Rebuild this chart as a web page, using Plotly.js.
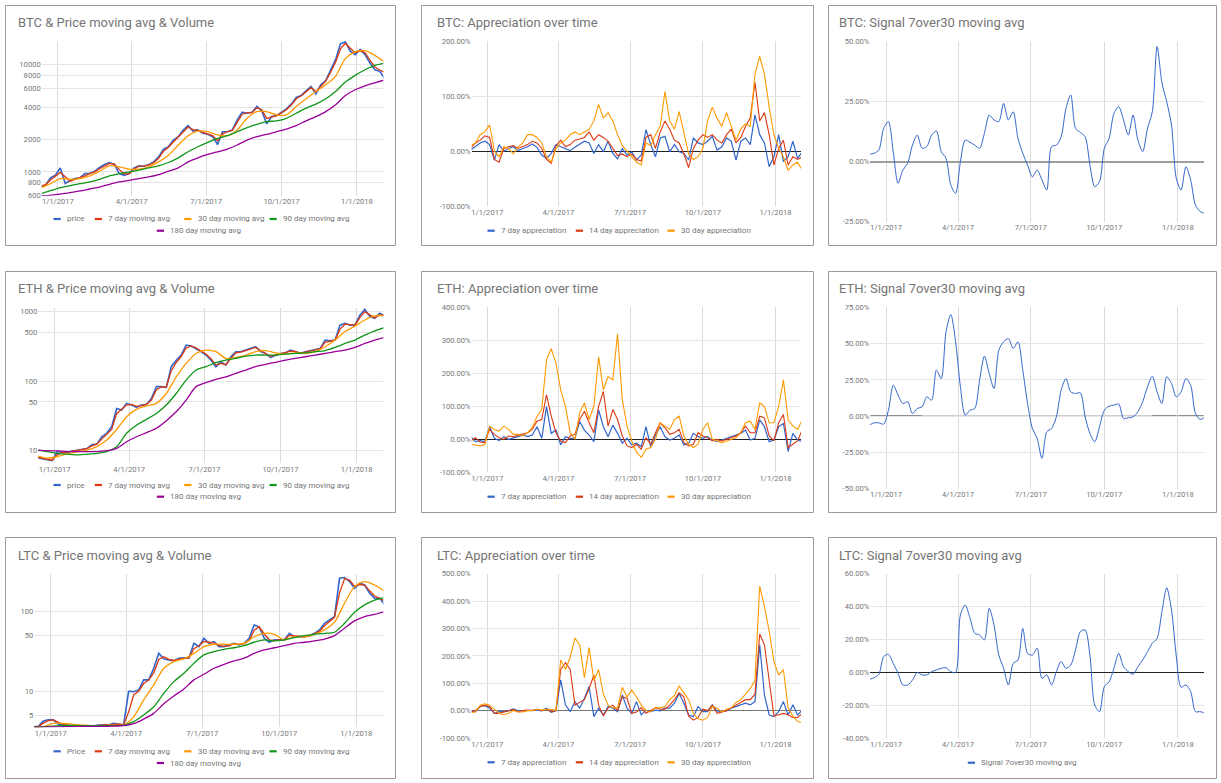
<!DOCTYPE html>
<html><head><meta charset="utf-8">
<script src="https://cdn.plot.ly/plotly-3.0.1.min.js"></script>
<style>html,body{margin:0;padding:0;background:#fff;}#chart{width:1221px;height:783px;}</style>
</head><body><div id="chart"></div>
<script>
// ---------- categories / tick labels ----------
const xTickVals = ['2017-01-01','2017-04-01','2017-07-01','2017-10-01','2018-01-01'];
const xTickText = ['1/1/2017','4/1/2017','7/1/2017','10/1/2017','1/1/2018'];
const priceNames = ['price','7 day moving avg','30 day moving avg','90 day moving avg','180 day moving avg'];
const ltcPriceNames = ['Price','7 day moving avg','30 day moving avg','90 day moving avg','180 day moving avg'];
const appNames = ['7 day appreciation','14 day appreciation','30 day appreciation'];
const signalName = 'Signal 7over30 moving avg';

const btcPriceTicks = [600,800,1000,2000,4000,6000,8000,10000];
const btcPriceTickText = ['600','800','1000','2000','4000','6000','8000','10000'];
const ethPriceTicks = [10,50,100,500,1000];
const ethPriceTickText = ['10','50','100','500','1000'];
const ltcPriceTicks = [5,10,50,100];
const ltcPriceTickText = ['5','10','50','100'];
const btcAppTicks = [-100,0,100,200];
const btcAppTickText = ['-100.00%','0.00%','100.00%','200.00%'];
const ethAppTicks = [-100,0,100,200,300,400];
const ethAppTickText = ['-100.00%','0.00%','100.00%','200.00%','300.00%','400.00%'];
const ltcAppTicks = [-100,0,100,200,300,400,500];
const ltcAppTickText = ['-100.00%','0.00%','100.00%','200.00%','300.00%','400.00%','500.00%'];
const btcSigTicks = [-25,0,25,50];
const btcSigTickText = ['-25.00%','0.00%','25.00%','50.00%'];
const ethSigTicks = [-50,-25,0,25,50,75];
const ethSigTickText = ['-50.00%','-25.00%','0.00%','25.00%','50.00%','75.00%'];
const ltcSigTicks = [-40,-20,0,20,40,60];
const ltcSigTickText = ['-40.00%','-20.00%','0.00%','20.00%','40.00%','60.00%'];

// daily dates sampled every 6 days / 12 days from 2016-12-11
function dayGrid(step, count){const out=[];const t0=Date.UTC(2016,11,11);for(let k=0;k<count;k++){out.push(new Date(t0+k*step*86400000).toISOString().slice(0,10));}return out;}
const dates6 = dayGrid(6,71);
const dates12 = dayGrid(12,36);

// ---------- BTC ----------
const btcPrice = [730,750,880,930,1090,780,835,866,880,965,965,1015,1100,1170,1220,1170,965,930,965,1090,1140,1130,1170,1240,1380,1630,1715,1980,2130,2460,2700,2400,2460,2290,2240,2130,1800,2370,2370,2460,3050,3600,3520,3600,4070,3700,2800,3280,3350,3600,3870,4280,4940,5160,5700,6270,5320,6500,7090,8960,11130,15600,16300,13330,12400,13840,12400,10340,8960,8660,7400];
const btcMa7 = [740,760,840,910,990,900,820,850,880,920,970,1000,1070,1140,1200,1190,1050,960,960,1060,1130,1130,1160,1220,1340,1560,1700,1900,2100,2350,2620,2480,2450,2330,2260,2180,1950,2250,2380,2440,2900,3450,3550,3580,3950,3800,3150,3250,3350,3550,3800,4200,4800,5100,5600,6100,5600,6300,7000,8500,10500,14000,15800,14200,12900,13500,12900,11000,9500,8900,8400];
const btcMa30 = [708,777,866,853,866,917,1015,1140,1115,1060,1060,1115,1240,1430,1780,2175,2400,2370,2210,2175,2460,3160,3650,3650,3400,3400,4070,4800,5620,6500,7780,11380,13150,13500,12200,10570];
const btcMa90 = [626,668,713,745,777,806,853,917,965,1000,1037,1090,1140,1223,1353,1540,1715,1884,2054,2175,2370,2585,2780,2940,2990,3160,3520,3930,4280,4800,5620,6870,7940,8960,9840,10300];
const btcMa180 = [602,605,622,640,664,693,723,766,806,835,866,898,944,1015,1090,1240,1353,1454,1540,1630,1780,1980,2130,2240,2370,2510,2700,2990,3280,3650,4220,5160,5830,6350,6770,7180];
const btcApp7 = [2,8,15,18,12,-16,12,0,5,8,1,5,8,13,7,-7,-13,-4,12,8,4,1,7,12,18,15,-4,12,-1,18,-4,-14,5,-7,-1,-16,-7,39,12,-10,24,27,-1,12,-1,-4,-16,24,15,12,18,27,2,8,24,18,-16,18,24,12,66,30,15,-28,-10,30,-19,-10,18,-13,-1];
const btcApp14 = [5,15,20,28,25,-15,-20,5,8,10,5,8,12,18,15,5,-15,-22,10,20,8,12,20,22,25,35,20,30,25,18,5,-8,-5,-10,-5,-15,-18,25,30,5,35,55,40,20,15,-5,-30,5,20,30,25,30,20,15,30,40,15,25,45,60,125,55,70,30,-25,5,20,-25,-10,-15,-10];
const btcApp30 = [10,15,30,35,48,0,-10,8,5,-5,8,15,30,30,25,15,-10,-20,5,15,20,30,35,30,35,40,55,85,60,70,55,30,10,0,-10,-20,-25,15,10,30,45,108,55,40,72,35,-5,-15,-10,5,55,80,60,45,70,45,20,40,50,45,140,172,140,80,30,5,-10,-35,-25,-20,-35];
const btcSignal = [3.1,3.5,4.9,13.9,16.7,4,-9,-3.5,-0.7,6.9,11.1,5.6,6.3,11.1,12.8,4.2,1.4,-9.7,-13.2,0,9.0,8.1,6.9,5.6,11.8,19.4,17.4,16.7,24.3,17.4,20.8,9.7,3.5,-1.4,-6.3,-3.5,-7.6,-11.8,6.3,6.9,10.4,22.2,27.8,13.9,12.2,10.4,-1.4,-10.4,-8.3,5.6,9.7,20.1,22.9,17.4,11.1,19.4,9.0,4.2,13.9,20.8,48,33,25,15.3,-6.9,-11.8,-2.1,-7.6,-18.1,-20.8,-21.5];

// ---------- ETH ----------
const ethPrice = [7.8,7.6,7.25,7.1,9.6,9.3,9.3,9.8,10,10.3,10.6,12,12.3,15.7,17.6,22,40,38.2,47.6,45,41.6,45,46,56,83,83,81,161,200,237,330,320,295,265,237,200,161,190,170,224,265,265,279,295,312,265,250,220,237,250,255,279,265,250,265,275,279,295,390,380,390,640,680,640,640,890,1080,850,800,948,870];
const ethMa7 = [8.0,7.7,7.4,7.2,8.6,9.3,9.4,9.7,10,10.3,10.6,11.6,12.3,14.5,17,20,34,39,45,46,43,44,46,53,75,82,82,140,185,225,300,320,300,270,245,210,170,180,172,210,255,262,275,290,305,275,252,228,236,248,254,270,268,253,262,272,278,292,360,378,388,560,660,650,640,820,1000,900,820,900,880];
const ethMa30 = [8.3,7.7,8.1,8.9,9.5,10.1,11.3,14.1,20,30.6,39,43.6,47.6,66,115,180,250,279,265,212,218,237,265,275,255,245,255,250,265,312,390,517,620,760,870,880];
const ethMa90 = [10,9.6,9.05,8.8,8.6,8.8,9.05,9.6,11.3,17.6,23,28,34,45,66,103,144,161,184,200,212,229,237,237,237,245,250,255,265,275,305,348,390,460,530,592];
const ethMa180 = [10.1,9.9,9.8,9.6,9.6,9.6,9.6,9.9,10.7,13.3,15.7,18,20.8,26.8,36,53,83,95,106,115,129,144,161,174,186,200,212,224,237,250,265,279,305,348,390,426];
const ethApp7 = [8,-7,-4,-7,38,3,-4,8,0,3,8,13,8,13,38,3,99,18,28,-17,8,3,3,54,28,13,-7,89,38,8,43,18,-12,3,-17,-12,-22,38,-22,13,38,8,-2,3,13,-17,-12,18,8,3,8,-2,-7,-2,3,8,13,18,28,-2,3,59,38,-7,-2,38,48,-37,18,-2,-7];
const ethApp14 = [-5,5,-8,-10,30,15,5,0,10,8,12,15,20,30,55,60,135,70,20,-5,-10,10,15,60,85,50,20,100,145,40,90,60,10,-20,-25,-15,-30,5,-15,20,50,35,15,20,30,-10,-20,-15,20,10,5,-5,0,-5,0,5,10,20,40,20,20,70,65,10,-5,50,75,-25,-15,-5,30];
const ethApp30 = [-15,-18,-20,-15,40,30,25,40,30,15,15,10,20,35,70,90,240,275,230,150,100,20,0,80,110,60,100,250,150,190,180,320,120,40,-5,-40,-55,-30,-25,0,50,40,30,60,70,10,-15,-25,-15,30,50,0,-5,-10,-5,0,5,20,50,55,30,110,100,50,50,100,180,60,40,30,60];
const ethSignal = [-6.2,-4.6,-4.6,-5.5,4.1,21.3,14.5,8.7,9.9,1.8,5.3,6.4,13.3,11.0,31.7,25.9,58,70,51.2,20.2,0.7,4.1,5.3,24.8,41.3,29.4,19.0,45.4,51.2,53.4,46.6,51.2,31.7,8.7,-8.5,-15.4,-29.1,-10.8,-8.5,-0.5,17.9,25.9,16.7,15.6,16.1,-0.5,-11.9,-17.7,-7.3,4.1,6.9,7.6,8.3,-1.6,-1.1,-0.5,3.0,9.9,20.2,27.5,16.7,8.7,27.1,22.5,13.3,16.7,25.9,21.3,1.8,-2.3,-0.5];

// ---------- LTC ----------
const ltcPrice = [3.62,3.62,4.25,4.4,4.4,3.87,3.79,3.72,3.72,3.68,3.68,3.65,3.68,3.79,3.79,3.79,3.98,3.87,3.79,10,9.9,10.4,13.9,13.9,19.4,29.8,25.4,24.6,24,25.9,26.3,25.9,39.8,36.2,46,39.8,41.8,36.2,36.2,37.9,39.8,37.9,39.8,46,67.4,64,46,41,43.9,43.9,43.9,53,48,48,48,49.6,53,58.5,70.8,78,85.8,258,264,235,194,224,213,168,145,145,120];
const ltcMa7 = [3.6,3.6,4.0,4.3,4.4,4.1,3.85,3.75,3.72,3.7,3.68,3.66,3.67,3.75,3.78,3.8,3.9,3.9,3.82,5.5,9.0,10,12.5,13.8,17,25,27,25,24.3,25,26,26,34,37,42,41,40,37.5,36.5,37,39,38.5,39.5,43,58,64,52,44,43,44,44,50,49,48,48,49,52,56,66,75,84,170,255,245,205,215,212,180,155,145,135];
const ltcMa30 = [3.58,3.62,3.98,3.98,3.87,3.79,3.72,3.72,3.79,3.79,4.8,7.8,12,19.4,23.5,25.4,29.8,36.2,38.7,38.7,38.7,39.8,48,53,51.5,43.9,48,48,51.5,58.5,73,126,203,235,213,176];
const ltcMa90 = [3.58,3.6,3.68,3.75,3.75,3.72,3.72,3.72,3.72,3.79,4.17,5.06,6.4,9.4,13.2,16.8,22.4,28.5,31.3,33.5,35,37.2,41,43.9,42.6,43.9,46.8,49.6,51.5,53,54.7,70.8,97,120,138,149];
const ltcMa180 = [3.57,3.57,3.58,3.62,3.62,3.65,3.65,3.65,3.68,3.72,3.94,4.5,5.3,7.0,8.75,10.7,13.9,16.3,19.4,21.7,24,25.9,29.8,32.9,35,37.2,39.8,41,42.6,45,49.6,61.3,75.7,85.8,91.6,99];
const ltcApp7 = [2,-4,15,18,9,-10,-4,-4,-1,6,-1,0,0,0,2,-1,9,-6,-1,112,21,-4,33,9,45,88,-22,9,-16,15,9,-4,57,9,-10,33,-16,2,-4,2,-1,9,9,27,63,27,-16,-22,15,-4,-4,21,-1,-4,-1,9,15,21,27,21,33,240,57,-16,-22,-4,33,-16,21,-16,2];
const ltcApp14 = [-5,0,15,20,15,-10,-10,-5,0,5,-5,0,2,0,5,0,5,-5,0,150,175,150,20,30,40,80,130,20,-20,10,20,0,50,45,-10,-5,10,-10,0,10,5,5,20,40,65,50,-20,-35,-25,5,0,20,-10,-5,0,10,20,30,40,40,60,280,240,110,-20,-15,-10,-15,-25,-25,-10];
const ltcApp30 = [-8,-5,20,25,20,5,-10,-15,-10,0,-5,-5,0,0,5,2,5,5,0,185,150,195,265,240,120,230,110,150,60,20,10,10,85,50,75,50,20,0,-5,10,10,15,40,55,90,65,40,-10,-30,-35,-25,15,10,-5,5,10,30,40,60,80,110,455,380,290,180,130,150,10,-20,-40,-45];
const ltcSignal = [-4.2,-3.2,-1.1,9.6,11,5.5,-0.5,-7.6,-7.6,-4.6,0,-1.5,-1.5,0.5,1.5,2.5,2.9,0.5,0,35,41,33,23.8,22.8,19.7,39,28.8,10.6,2.5,-7.6,5.5,7.6,26.8,11.6,10.6,14.7,-3.6,-1.5,-7.6,0.5,6.6,2.5,4.5,13.7,24.8,25.8,10.6,-19.8,-23.8,-8.6,-5.6,2.5,11.6,3.5,0.5,-1.1,3.5,7.6,12.6,17.7,20.7,36.9,51.5,38,10,-9,-7.6,-11.6,-23.8,-23.8,-24.8];

// ---------- styling / layout ----------
const W = 1221, H = 783;
const C = {blue:'#3366cc', red:'#dc3912', orange:'#ff9900', green:'#109618', purple:'#990099'};
const FONT = 'Roboto, "Open Sans", Arial, sans-serif';
const XRANGE = ['2016-12-12 07:00','2018-02-02 07:00'];
const px = v => v / W;
const py = v => 1 - v / H;

const priceColors = [C.blue, C.red, C.orange, C.green, C.purple];
const priceWidths = [1.6, 1.3, 1.3, 1.3, 1.3];
const priceShapes = ['linear','linear','spline','spline','spline'];
const appColors = [C.blue, C.red, C.orange];

const PANELS = [
  {box:[5.5,5.5,395.5,245.5], plot:[41.7,41,383.3,195.7], title:'BTC & Price moving avg & Volume', tpos:[17.3,22.5],
   ytype:'log', yrange:[Math.log10(600),Math.log10(16600)], yt:btcPriceTicks, ytt:btcPriceTickText,
   series:[[dates6,btcPrice],[dates6,btcMa7],[dates12,btcMa30],[dates12,btcMa90],[dates12,btcMa180]], names:priceNames, colors:priceColors, widths:priceWidths, shapes:priceShapes,
   legend:[{y:219, idx:[0,1,2,3], tx:[66,107.3,196.7,282]},{y:230.7, idx:[4], tx:[169.3]}]},
  {box:[421.5,5.5,813.5,245.5], plot:[471.7,41,801,206.3], title:'BTC: Appreciation over time', tpos:[435.7,22.5],
   ytype:'linear', yrange:[-100,200], yt:btcAppTicks, ytt:btcAppTickText, zero:{color:'#222',width:1.2},
   series:[[dates6,btcApp7],[dates6,btcApp14],[dates6,btcApp30]], names:appNames, colors:appColors, widths:[1.2,1.1,1.1], shapes:['linear','linear','linear'],
   legend:[{y:230.7, idx:[0,1,2], tx:[500,588.3,680]}]},
  {box:[828.5,5.5,1216.5,245.5], plot:[870.3,41.7,1203.7,221.7], title:'BTC: Signal 7over30 moving avg', tpos:[838,22.5],
   ytype:'linear', yrange:[-25,50], yt:btcSigTicks, ytt:btcSigTickText, zero:{color:'#9e9e9e',width:1.6},
   series:[[dates6,btcSignal]], names:[signalName], colors:[C.blue], widths:[1], shapes:['spline'], legend:[]},

  {box:[5.5,271.5,395.5,512.5], plot:[38.3,307.7,383.3,463.3], title:'ETH & Price moving avg & Volume', tpos:[17.3,289],
   ytype:'log', yrange:[Math.log10(6.5),Math.log10(1142)], yt:ethPriceTicks, ytt:ethPriceTickText,
   series:[[dates6,ethPrice],[dates6,ethMa7],[dates12,ethMa30],[dates12,ethMa90],[dates12,ethMa180]], names:priceNames, colors:priceColors, widths:priceWidths, shapes:priceShapes,
   legend:[{y:485, idx:[0,1,2,3], tx:[66,107.3,196.7,282]},{y:496.7, idx:[4], tx:[169.3]}]},
  {box:[421.5,271.5,813.5,512.5], plot:[471.7,307.3,801,472.3], title:'ETH: Appreciation over time', tpos:[435.7,289],
   ytype:'linear', yrange:[-100,400], yt:ethAppTicks, ytt:ethAppTickText, zero:{color:'#222',width:1.2},
   series:[[dates6,ethApp7],[dates6,ethApp14],[dates6,ethApp30]], names:appNames, colors:appColors, widths:[1.2,1.1,1.1], shapes:['linear','linear','linear'],
   legend:[{y:496.7, idx:[0,1,2], tx:[500,588.3,680]}]},
  {box:[828.5,271.5,1216.5,512.5], plot:[870.3,307.3,1203.7,488.7], title:'ETH: Signal 7over30 moving avg', tpos:[838,289],
   ytype:'linear', yrange:[-50,75], yt:ethSigTicks, ytt:ethSigTickText, zeroSegs:[[870.3,922,'#222'],[922,1152,'#9e9e9e'],[1152,1203.7,'#222']],
   series:[[dates6,ethSignal]], names:[signalName], colors:[C.blue], widths:[1], shapes:['spline'], legend:[]},

  {box:[5.5,537.5,395.5,778.5], plot:[34.3,574,383.3,727.3], title:'LTC & Price moving avg & Volume', tpos:[17.3,555],
   ytype:'log', yrange:[Math.log10(3.55),Math.log10(292)], yt:ltcPriceTicks, ytt:ltcPriceTickText,
   series:[[dates6,ltcPrice],[dates6,ltcMa7],[dates12,ltcMa30],[dates12,ltcMa90],[dates12,ltcMa180]], names:ltcPriceNames, colors:priceColors, widths:priceWidths, shapes:priceShapes,
   legend:[{y:751.3, idx:[0,1,2,3], tx:[66,107.3,196.7,282]},{y:763, idx:[4], tx:[169.3]}]},
  {box:[421.5,537.5,813.5,778.5], plot:[471.7,573.7,801,738], title:'LTC: Appreciation over time', tpos:[435.7,555],
   ytype:'linear', yrange:[-100,500], yt:ltcAppTicks, ytt:ltcAppTickText, zero:{color:'#777',width:1.2},
   series:[[dates6,ltcApp7],[dates6,ltcApp14],[dates6,ltcApp30]], names:appNames, colors:appColors, widths:[1.2,1.1,1.1], shapes:['linear','linear','linear'],
   legend:[{y:762.3, idx:[0,1,2], tx:[500,588.3,680]}]},
  {box:[828.5,537.5,1216.5,778.5], plot:[870.3,573.7,1203.7,738.3], title:'LTC: Signal 7over30 moving avg', tpos:[838,555.5],
   ytype:'linear', yrange:[-40,60], yt:ltcSigTicks, ytt:ltcSigTickText, zero:{color:'#222',width:1.2},
   series:[[dates6,ltcSignal]], names:[signalName], colors:[C.blue], widths:[1], shapes:['spline'],
   legend:[{y:762.7, idx:[0], tx:[980.3]}]}
];

const traces = [];
const layout = {
  width:W, height:H, margin:{l:0,r:0,t:0,b:0}, paper_bgcolor:'#ffffff', plot_bgcolor:'#ffffff',
  showlegend:false, hovermode:false, font:{family:FONT, size:8, color:'#757575'},
  shapes:[], annotations:[]
};

PANELS.forEach((p,i) => {
  const s = i === 0 ? '' : String(i+1);
  const [l,t,r,b] = p.plot;
  layout['xaxis'+s] = {
    domain:[px(l),px(r)], anchor:'y'+s, type:'date', range:XRANGE,
    tickmode:'array', tickvals:xTickVals, ticktext:xTickText, ticks:'',
    showgrid:true, gridcolor:'#dadada', gridwidth:1, zeroline:false, showline:false,
    tickfont:{family:FONT, size:7.6, color:'#777777'}, fixedrange:true
  };
  const ya = {
    domain:[py(b),py(t)], anchor:'x'+s, type:p.ytype, range:p.yrange,
    tickmode:'array', tickvals:p.yt, ticktext:p.ytt, ticks:'',
    showgrid:true, gridcolor:'#e6e6e6', gridwidth:1, showline:false,
    tickfont:{family:FONT, size:7.6, color:'#777777'}, fixedrange:true
  };
  if (p.zero) { ya.zeroline = true; ya.zerolinecolor = p.zero.color; ya.zerolinewidth = p.zero.width; }
  else ya.zeroline = false;
  layout['yaxis'+s] = ya;

  p.series.forEach((sr,k) => {
    const ln = {color:p.colors[k], width:p.widths[k], shape:p.shapes[k]};
    if (p.shapes[k] === 'spline') ln.smoothing = 0.8;
    traces.push({x:sr[0], y:sr[1], name:p.names[k], xaxis:'x'+s, yaxis:'y'+s, type:'scatter', mode:'lines',
      line:ln, hoverinfo:'skip'});
  });

  if (p.zeroSegs) {
    p.zeroSegs.forEach(z => layout.shapes.push({type:'line', xref:'paper', yref:'y'+s, x0:px(z[0]), x1:px(z[1]), y0:0, y1:0, line:{color:z[2], width:1.2}, layer:'below'}));
  }

  layout.shapes.push({type:'rect', xref:'paper', yref:'paper', x0:px(p.box[0]), x1:px(p.box[2]), y0:py(p.box[1]), y1:py(p.box[3]), line:{color:'#9a9a9a', width:1}, fillcolor:'rgba(0,0,0,0)', layer:'above'});

  layout.annotations.push({xref:'paper', yref:'paper', x:px(p.tpos[0]), y:py(p.tpos[1]), xanchor:'left', yanchor:'middle', showarrow:false, borderpad:0,
    text:p.title, font:{family:FONT, size:13, color:'#757575'}});

  p.legend.forEach(row => {
    row.idx.forEach((k,j) => {
      const tx = row.tx[j];
      layout.shapes.push({type:'line', xref:'paper', yref:'paper', x0:px(tx-12.5), x1:px(tx-5.3), y0:py(row.y), y1:py(row.y), line:{color:p.colors[k], width:2.2}});
      layout.annotations.push({xref:'paper', yref:'paper', x:px(tx), y:py(row.y), xanchor:'left', yanchor:'middle', showarrow:false, borderpad:0,
        text:p.names[k], font:{family:FONT, size:8, color:'#757575'}});
    });
  });
});

Plotly.newPlot('chart', traces, layout, {staticPlot:true, displayModeBar:false});
</script>
</body></html>
